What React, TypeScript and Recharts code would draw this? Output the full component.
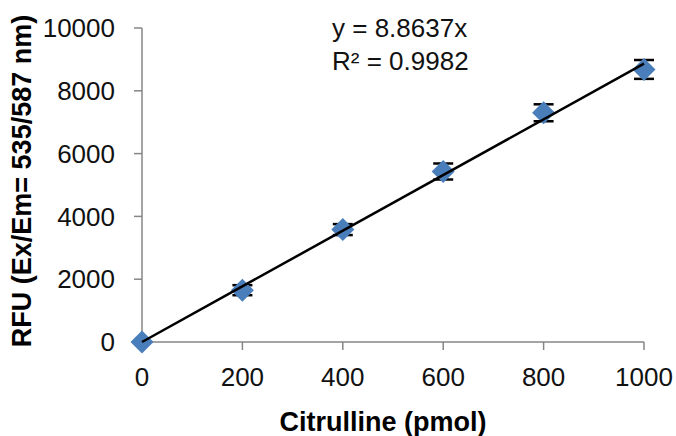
import { ComposedChart, Scatter, XAxis, YAxis, ErrorBar } from 'recharts';

// citrulline standard curve
const citrulline = [0, 200, 400, 600, 800, 1000];
const rfu = [0, 1650, 3580, 5430, 7300, 8680];
const rfuErr = [0, 160, 175, 255, 270, 300];

const slope = 8.8637;
const fitRange = [0, 1000];

const xTicks = [0, 200, 400, 600, 800, 1000];
const yTicks = [0, 2000, 4000, 6000, 8000, 10000];

const points = citrulline.map((x, i) => ({ x, y: rfu[i], err: rfuErr[i] }));
const fitLine = fitRange.map((x) => ({ x, y: slope * x }));

const FONT = '"Liberation Sans", Arial, sans-serif';
const AXIS = '#868686';

const Diamond = (props: any) => {
  const { cx, cy } = props;
  const r = 11.5;
  return (
    <path
      d={`M${cx},${cy - r}L${cx + r},${cy}L${cx},${cy + r}L${cx - r},${cy}Z`}
      fill="#4a7ebb"
    />
  );
};

export default function App() {
  return (
    <div style={{ position: 'absolute', left: 0, top: 0, width: 676, height: 436, background: '#fff', fontFamily: FONT }}>
      <ComposedChart width={676} height={436} margin={{ top: 28, right: 32, left: 0, bottom: 0 }}>
        <XAxis
          type="number"
          dataKey="x"
          domain={[0, 1000]}
          ticks={xTicks}
          height={94}
          stroke={AXIS}
          strokeWidth={1.5}
          tickSize={8}
          tickMargin={18}
          tick={{ fill: '#111', fontSize: 26, fontFamily: FONT }}
          label={{ value: 'Citrulline (pmol)', position: 'insideBottom', offset: 5, dx: -10, style: { fill: '#000', fontSize: 27, fontWeight: 'bold', fontFamily: FONT } }}
        />
        <YAxis
          type="number"
          dataKey="y"
          domain={[0, 10000]}
          ticks={yTicks}
          width={142}
          stroke={AXIS}
          strokeWidth={1.5}
          tickSize={8}
          tickMargin={19}
          tick={{ fill: '#111', fontSize: 26, fontFamily: FONT }}
          label={{ value: 'RFU (Ex/Em= 535/587 nm)', angle: -90, position: 'insideLeft', offset: 21, dy: -4, style: { textAnchor: 'middle', fill: '#000', fontSize: 27, fontWeight: 'bold', fontFamily: FONT } }}
        />
        <Scatter data={points} shape={() => null} isAnimationActive={false}>
          <ErrorBar dataKey="err" direction="y" width={10} stroke="#000" strokeWidth={2.5} />
        </Scatter>
        <Scatter data={points} shape={<Diamond />} isAnimationActive={false} />
        <Scatter data={fitLine} line={{ stroke: '#000', strokeWidth: 2.5 }} shape={() => null} isAnimationActive={false} />
      </ComposedChart>
      <div style={{ position: 'absolute', left: 332, top: 12, fontSize: 26, lineHeight: '33px', color: '#111' }}>
        <div>y = 8.8637x</div>
        <div>R² = 0.9982</div>
      </div>
    </div>
  );
}
